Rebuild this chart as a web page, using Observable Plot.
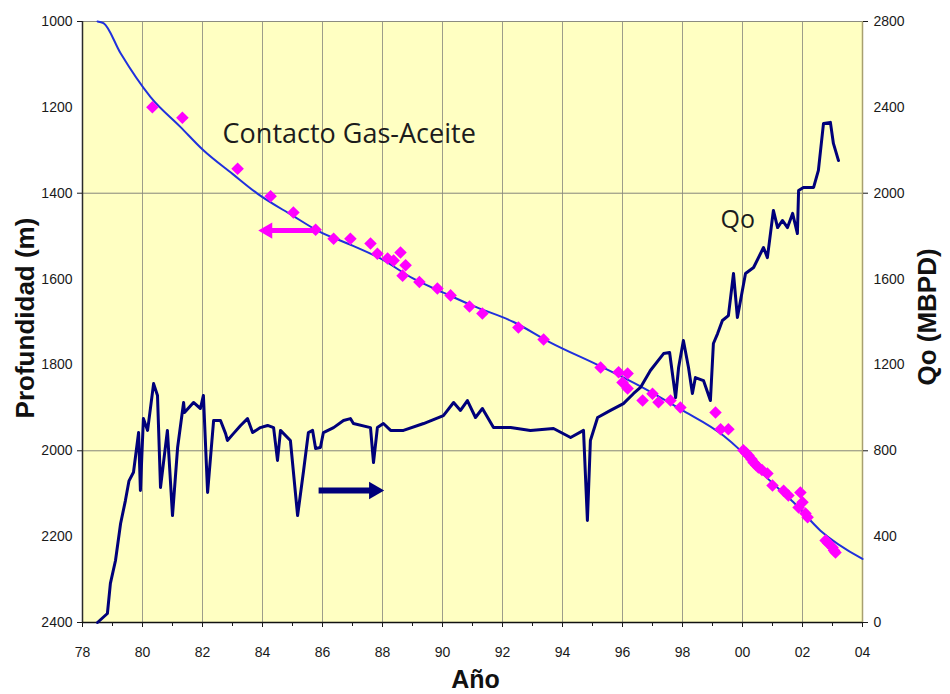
<!DOCTYPE html>
<html>
<head>
<meta charset="utf-8">
<script src="https://cdn.jsdelivr.net/npm/d3@7"></script>
<script src="https://cdn.jsdelivr.net/npm/@observablehq/plot@0.6"></script>
<style>
  html, body { margin: 0; padding: 0; background: #ffffff; }
</style>
</head>
<body>
<div id="chart"></div>
<script>
// ---- Data ----
// Gas-oil contact (fitted curve), depth in m
const contactYear  = [1978.50,1978.70,1979.27,1980.27,1981.27,1982.03,1983.00,1983.83,1985.00,1985.83,1987.00,1987.93,1989.00,1990.17,1991.00,1992.37,1993.60,1995.17,1996.60,1997.93,1999.37,1999.93,2000.80,2001.70,2002.60,2004.00];
const contactDepth = [1000,1004,1074,1176,1246,1300,1355,1401,1452,1487,1522,1552,1598,1636,1662,1700,1748,1800,1850,1903,1965,1999,2062,2120,2186,2252];

// Measured contact points (diamonds)
const pointYear  = [1980.33,1981.33,1983.17,1984.27,1985.03,1985.77,1986.37,1986.93,1987.60,1987.83,1988.17,1988.37,1988.60,1988.77,1988.67,1989.23,1989.83,1990.27,1990.90,1991.33,1992.53,1993.37,1995.27,1995.87,1996.17,1996.00,1996.17,1996.67,1997.00,1997.20,1997.60,1997.93,1999.10,1999.27,1999.53,2000.03,2000.12,2000.20,2000.30,2000.37,2000.45,2000.53,2000.65,2000.83,2001.00,2001.37,2001.53,2001.93,2001.87,2002.00,2002.10,2002.17,2002.77,2002.85,2003.00,2003.05,2003.10];
const pointDepth = [1200,1224,1343,1407,1445,1485,1506,1506,1517,1541,1552,1557,1538,1568,1592,1607,1622,1638,1664,1680,1713,1741,1806,1817,1820,1841,1855,1883,1867,1887,1883,1899,1911,1950,1950,1999,2005,2011,2020,2027,2033,2039,2045,2053,2081,2093,2104,2097,2132,2120,2146,2155,2209,2215,2225,2232,2237];

// Oil production Qo (MBPD)
const qoYear = [1978.50,1978.83,1978.93,1979.10,1979.27,1979.43,1979.55,1979.70,1979.87,1979.93,1980.03,1980.17,1980.37,1980.50,1980.60,1980.83,1981.00,1981.17,1981.37,1981.40,1981.70,1981.93,1982.03,1982.17,1982.37,1982.60,1982.77,1982.83,1983.03,1983.27,1983.50,1983.67,1983.93,1984.17,1984.37,1984.50,1984.60,1984.93,1985.17,1985.37,1985.53,1985.67,1985.77,1985.93,1986.03,1986.37,1986.70,1986.93,1987.03,1987.60,1987.70,1987.83,1988.03,1988.27,1988.70,1989.37,1990.03,1990.37,1990.60,1990.83,1991.10,1991.33,1991.70,1992.27,1992.93,1993.70,1994.27,1994.70,1994.83,1994.93,1995.17,1995.60,1996.03,1996.37,1996.60,1996.93,1997.37,1997.57,1997.77,1997.87,1998.03,1998.20,1998.33,1998.43,1998.70,1998.93,1999.03,1999.17,1999.33,1999.53,1999.70,1999.83,2000.10,2000.37,2000.70,2000.83,2001.03,2001.17,2001.33,2001.50,2001.67,2001.83,2001.87,2002.03,2002.37,2002.53,2002.70,2002.93,2003.03,2003.20];
const qoRate = [0,42,182,289,461,568,660,700,885,615,950,895,1113,1058,629,895,498,815,1025,978,1025,997,1058,606,941,941,880,848,880,918,950,885,908,918,908,755,895,848,498,708,885,895,811,815,885,908,941,950,927,908,745,908,927,895,895,927,964,1025,988,1034,955,997,908,908,895,904,862,895,475,848,955,988,1020,1067,1095,1174,1253,1258,1048,1188,1314,1188,1067,1141,1127,1034,1300,1346,1407,1430,1626,1421,1626,1654,1747,1700,1920,1840,1873,1840,1906,1812,2013,2027,2027,2106,2325,2330,2232,2152];

// Axis ticks
const yearTicks   = [1978,1980,1982,1984,1986,1988,1990,1992,1994,1996,1998,2000,2002,2004];
const minorYears  = [1979,1981,1983,1985,1987,1989,1991,1993,1995,1997,1999,2001,2003];
const depthTicks  = [1000,1200,1400,1600,1800,2000,2200,2400];
const qoTicks     = [0,400,800,1200,1600,2000,2400,2800];
const gridYears   = [1980,1982,1984,1986,1988,1990,1992,1994,1996,1998,2000,2002];
const gridDepths  = [1400,2000];

// Annotations (data units)
const contactArrow = {from: 1985.83, to: 1984.3, head: 1984.17, depth: 1487};
const qoArrow      = {from: 1985.87, to: 1987.6, head: 1987.72, qo: 615};
const contactLabel = {text: "Contacto Gas-Aceite", year: 1982.67, depth: 1284};
const qoLabel      = {text: "Qo", year: 1999.27, qo: 1840};

// ---- Mapping of Qo onto the shared (depth) y scale: 0..2800 <-> 2400..1000
const qoToY = q => 2400 - q / 2;
const yToQo = d => (2400 - d) * 2;

const contact = contactYear.map((x, i) => ({x, y: contactDepth[i]}));
const points  = pointYear.map((x, i) => ({x, y: pointDepth[i]}));
const qo      = qoYear.map((x, i) => ({x, y: qoToY(qoRate[i])}));

const MAGENTA = "#ff00ff";
const NAVY = "#00007a";
const BLUE = "#2030dd";
const tickFont = "'Liberation Sans', Arial, sans-serif";

const chart = Plot.plot({
  width: 950,
  height: 694,
  marginLeft: 82,
  marginRight: 88,
  marginTop: 21,
  marginBottom: 72,
  x: {domain: [1978, 2004]},
  y: {domain: [1000, 2400], reverse: true},
  style: {fontFamily: tickFont, fontSize: "14px", color: "#1a1a1a", background: "#ffffff"},
  marks: [
    Plot.frame({fill: "#ffffc2", stroke: "none"}),
    Plot.ruleX(gridYears, {stroke: "#9d9d8a", strokeWidth: 1}),
    Plot.ruleY(gridDepths, {stroke: "#85857a", strokeWidth: 1}),
    Plot.ruleY([1000], {stroke: "#8c8c80", strokeWidth: 1}),
    Plot.ruleX([2004], {stroke: "#a8a070", strokeWidth: 1.5}),
    Plot.ruleX([1978], {stroke: "#2a2a2a", strokeWidth: 1.5}),
    Plot.ruleY([2400], {stroke: "#111111", strokeWidth: 1.5}),

    // bottom axis
    Plot.axisX({ticks: yearTicks, tickSize: 5, tickPadding: 20, label: null,
      tickFormat: d => String(d % 100).padStart(2, "0")}),
    Plot.axisX({ticks: minorYears, tickSize: 4, fill: "none", label: null}),
    // left axis
    Plot.axisY({ticks: depthTicks, tickSize: 0, tickPadding: 10, label: null, tickFormat: d => String(d)}),
    Plot.axisY({ticks: [1000, 1400, 2000, 2400], tickSize: 5, fill: "none", label: null}),
    // right axis (Qo)
    Plot.axisY({anchor: "right", ticks: qoTicks.map(qoToY), tickSize: 0, tickPadding: 11, label: null,
      tickFormat: d => String(Math.round(yToQo(d)))}),
    Plot.axisY({anchor: "right", ticks: [1000, 1400, 2000, 2400], tickSize: 5, fill: "none", label: null}),

    // contact curve and points
    Plot.line(contact, {x: "x", y: "y", stroke: BLUE, strokeWidth: 2, curve: "monotone-x"}),
    Plot.dot(points, {x: "x", y: "y", symbol: "square", r: 5, rotate: 45, fill: MAGENTA, stroke: "none"}),

    // Qo line
    Plot.line(qo, {x: "x", y: "y", stroke: NAVY, strokeWidth: 3, strokeLinejoin: "round"}),

    // arrows
    Plot.link([contactArrow], {x1: "from", x2: "to", y1: "depth", y2: "depth", stroke: MAGENTA, strokeWidth: 5}),
    Plot.dot([contactArrow], {x: "head", y: "depth", symbol: "triangle", r: 6, rotate: -90, fill: MAGENTA, stroke: "none"}),
    Plot.link([qoArrow], {x1: "from", x2: "to", y1: d => qoToY(d.qo), y2: d => qoToY(d.qo), stroke: NAVY, strokeWidth: 6}),
    Plot.dot([qoArrow], {x: "head", y: d => qoToY(d.qo), symbol: "triangle", r: 6.5, rotate: 90, fill: NAVY, stroke: "none"}),

    // annotations
    Plot.text([contactLabel], {x: "year", y: "depth", text: "text", textAnchor: "start", lineAnchor: "bottom",
      fontSize: 27, fontFamily: "'Open Sans', Lato, sans-serif", fill: "#1c1c1c"}),
    Plot.text([qoLabel], {x: "year", y: d => qoToY(d.qo), text: "text", textAnchor: "start", lineAnchor: "bottom",
      fontSize: 25, fontFamily: "'Open Sans', Lato, sans-serif", fill: "#1c1c1c"}),

    // axis titles
    Plot.text(["Profundidad (m)"], {text: d => d, frameAnchor: "left", textAnchor: "middle", lineAnchor: "middle",
      dx: -57, dy: -4, rotate: -90, fontSize: 26, fontWeight: "bold", fill: "#111"}),
    Plot.text(["Qo (MBPD)"], {text: d => d, frameAnchor: "right", textAnchor: "middle", lineAnchor: "middle",
      dx: 65, dy: -5, rotate: -90, fontSize: 26, fontWeight: "bold", fill: "#111"}),
    Plot.text(["Año"], {text: d => d, frameAnchor: "bottom", textAnchor: "middle", lineAnchor: "bottom",
      dx: 3, dy: 65, fontSize: 25, fontWeight: "bold", fill: "#111"})
  ]
});

document.getElementById("chart").appendChild(chart);
</script>
</body>
</html>
